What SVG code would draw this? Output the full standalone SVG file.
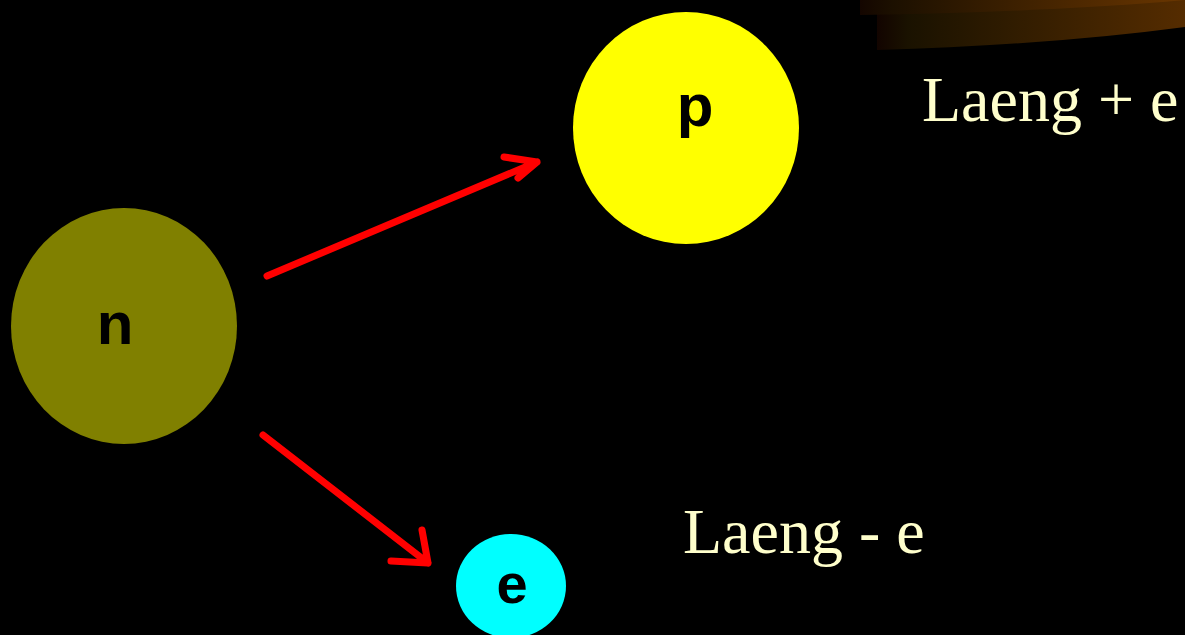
<svg xmlns="http://www.w3.org/2000/svg" width="1185" height="635" viewBox="0 0 1185 635">
  <defs>
    <linearGradient id="swA" x1="0" y1="0" x2="1" y2="0">
      <stop offset="0" stop-color="#140600"/>
      <stop offset="0.1" stop-color="#1c1000"/>
      <stop offset="1" stop-color="#6a3600"/>
    </linearGradient>
    <linearGradient id="swB" x1="0" y1="0" x2="1" y2="0">
      <stop offset="0" stop-color="#120400"/>
      <stop offset="0.1" stop-color="#1a1200"/>
      <stop offset="1" stop-color="#552c00"/>
    </linearGradient>
    <style>
      .node-label { font-family: "Liberation Sans", Arial, sans-serif; font-weight: bold; fill: #000000; text-anchor: middle; }
      .caption { font-family: "Liberation Serif", "Times New Roman", serif; font-size: 64px; fill: #FFFFCC; }
      .arrow { fill: none; stroke: #FF0000; stroke-width: 7; stroke-linecap: round; stroke-linejoin: round; }
    </style>
  </defs>
  <rect x="0" y="0" width="1185" height="635" fill="#000000"/>
  <g id="decoration">
    <path d="M877,13 Q1040,10 1185,-2 V27 Q1050,45 877,50 Z" fill="url(#swB)"/>
    <path d="M860,0 H1185 V0 Q1050,12 860,15 Z" fill="url(#swA)"/>
  </g>
  <g id="connectors">
    <path class="arrow" d="M267,276 L537,162 M504,157 L537,162 L518,178"/>
    <path class="arrow" d="M263,435 L428,563 M391,561 L428,563 L422,530"/>
  </g>
  <g id="node-n">
    <ellipse cx="124" cy="326" rx="113" ry="118" fill="#808000"/>
    <text class="node-label" x="115" y="344" font-size="60">n</text>
  </g>
  <g id="node-p">
    <ellipse cx="686" cy="128" rx="113" ry="116" fill="#FFFF00"/>
    <text class="node-label" x="695" y="126" font-size="60">p</text>
  </g>
  <g id="node-e">
    <ellipse cx="511" cy="586" rx="55" ry="52" fill="#00FFFF"/>
    <text class="node-label" x="512" y="603" font-size="56">e</text>
  </g>
  <g id="label-plus">
    <text class="caption" x="922" y="121">Laeng + e</text>
  </g>
  <g id="label-minus">
    <text class="caption" x="683" y="553">Laeng - e</text>
  </g>
</svg>
